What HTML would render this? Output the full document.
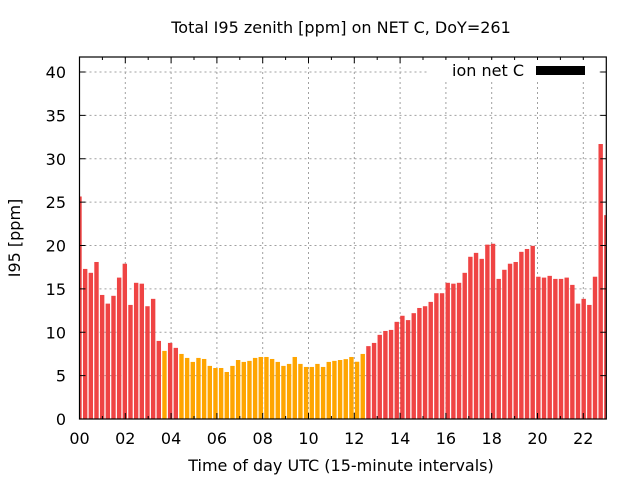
<!DOCTYPE html>
<html><head><meta charset="utf-8"><style>
html,body{margin:0;padding:0;background:#fff;}
svg{display:block;font-family:"DejaVu Sans","Liberation Sans",sans-serif;}
</style></head><body>
<svg id="chart" width="640" height="480" viewBox="0 0 640 480" xmlns="http://www.w3.org/2000/svg">
<rect x="0" y="0" width="640" height="480" fill="#fff"/>
<text x="341" y="33" font-size="16" text-anchor="middle" fill="#000">Total I95 zenith [ppm] on NET C, DoY=261</text>
<g id="grid"></g>
<g id="bars"></g>
<g id="axes"></g>
<text x="20" y="238" font-size="16" text-anchor="middle" transform="rotate(-90 20 238)">I95 [ppm]</text>
<text x="341" y="471" font-size="16" text-anchor="middle">Time of day UTC (15-minute intervals)</text>
<g>
<rect x="428" y="60" width="170" height="20" fill="#fff"/>
<text x="524" y="76" font-size="16" text-anchor="end">ion net C</text>
<rect x="536" y="66" width="49" height="9" fill="#000"/>
</g>
</svg>
<script>
const values = [25.65,17.3,16.85,18.1,14.3,13.3,14.2,16.3,17.9,13.15,15.7,15.6,13.0,13.85,9.0,7.85,8.77,8.2,7.5,7.04,6.58,7.04,6.92,6.12,5.88,5.88,5.42,6.12,6.8,6.58,6.7,7.04,7.15,7.15,6.92,6.58,6.12,6.35,7.15,6.35,6.0,6.0,6.35,6.0,6.58,6.7,6.8,6.9,7.15,6.6,7.5,8.4,8.77,9.7,10.15,10.27,11.2,11.9,11.4,12.2,12.8,13.0,13.5,14.5,14.5,15.7,15.6,15.7,16.85,18.7,19.15,18.46,20.1,20.2,16.15,17.2,17.9,18.1,19.27,19.6,19.96,16.4,16.3,16.5,16.15,16.15,16.3,15.46,13.3,13.85,13.15,16.4,31.7,23.5];
const yTicks = [0,5,10,15,20,25,30,35,40];
const xTickLabels = ["00","02","04","06","08","10","12","14","16","18","20","22"];
const xTickHours = [0,2,4,6,8,10,12,14,16,18,20,22];
const threshold = [8];

const NS="http://www.w3.org/2000/svg";
const L=79.5,R=606.3,T=57,B=419;
function yS(v){return B-v*8.675;}
function xH(h){return L+h*22.9;}
function xI(i){return L+i*5.665;}
function mk(tag,attrs,parent){const e=document.createElementNS(NS,tag);for(const k in attrs)e.setAttribute(k,attrs[k]);parent.appendChild(e);return e;}
const grid=document.getElementById('grid'),bars=document.getElementById('bars'),axes=document.getElementById('axes');
const svg=document.getElementById('chart');
const defs=mk('defs',{},svg);const cp=mk('clipPath',{id:'pc'},defs);mk('rect',{x:L,y:T,width:R-L,height:B-T},cp);
bars.setAttribute('clip-path','url(#pc)');
yTicks.forEach(v=>{
  const y=yS(v);
  if(v>0){const g=mk('line',{x1:L,x2:R,y1:y,y2:y,stroke:'#a0a0a0','stroke-dasharray':'2,3','stroke-width':1},grid);
  
  }
  const t1=mk('line',{x1:L,x2:L+6,y1:y,y2:y,stroke:'#000'},axes);
  
  
  mk('line',{x1:R-6,x2:R,y1:y,y2:y,stroke:'#000'},axes);
  const tx=mk('text',{x:66,y:y+6,'font-size':16,'text-anchor':'end'},axes);
  
  
  tx.textContent=v;
});
for(let h=1;h<23;h+=2){const x=xH(h);mk('line',{x1:x,x2:x,y1:B,y2:B-3,stroke:'#000'},axes);mk('line',{x1:x,x2:x,y1:T,y2:T+3,stroke:'#000'},axes);}
xTickHours.forEach((h,k)=>{
  const x=xH(h);
  if(h>0){const g=mk('line',{x1:x,x2:x,y1:T,y2:B,stroke:'#a0a0a0','stroke-dasharray':'2,3'},grid);
  
  }
  mk('line',{x1:x,x2:x,y1:B,y2:B-6,stroke:'#000'},axes);
  mk('line',{x1:x,x2:x,y1:T,y2:T+6,stroke:'#000'},axes);
  const tx=mk('text',{x:x,y:444,'font-size':16,'text-anchor':'middle'},axes);
  
  
  tx.textContent=xTickLabels[k];
});
values.forEach((v,i)=>{
  const x=xI(i),y=yS(v);
  const r=mk('rect',{x:x-2.2,y:y,width:4.4,height:B-y,fill:v>threshold[0]?'#ef4444':'#ffa500'},bars);
  
  
});
const fr=mk('rect',{x:L,y:T,width:R-L,height:B-T,fill:'none',stroke:'#000','stroke-width':1.2},axes);


</script>
</body></html>
